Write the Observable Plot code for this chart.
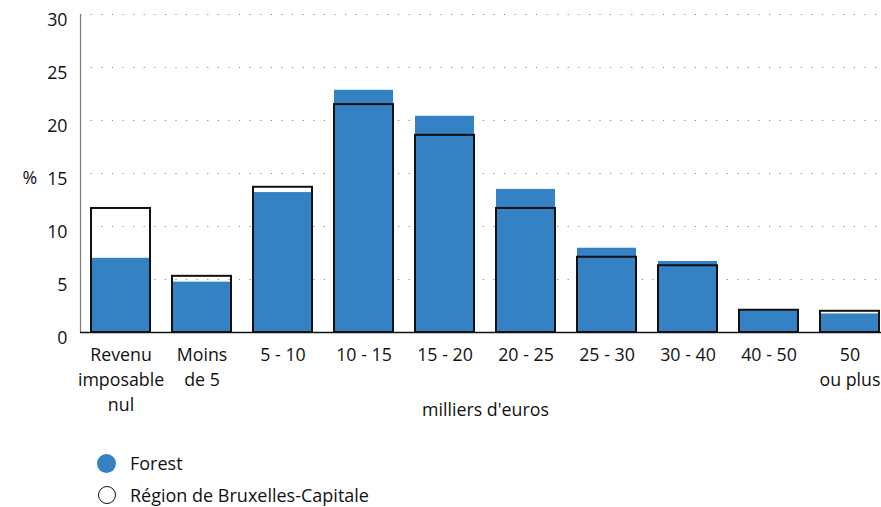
<!DOCTYPE html>
<html>
<head>
<meta charset="utf-8">
<script src="https://cdn.jsdelivr.net/npm/d3@7"></script>
<script src="https://cdn.jsdelivr.net/npm/@observablehq/plot@0.6"></script>
<style>
  html, body { margin: 0; padding: 0; background: #fff; }
  body { width: 881px; height: 507px; position: relative; overflow: hidden; font-family: "Open Sans", sans-serif; color: #111; }
  #chart { position: absolute; left: 0; top: 0; }
  .legend { position: absolute; left: 97px; font-size: 18px; display: flex; align-items: center; line-height: 20px; }
  .legend .sw { width: 19px; height: 19px; border-radius: 50%; box-sizing: border-box; margin-right: 14px; }
</style>
</head>
<body>
<div id="chart"></div>
<div class="legend" style="top:453px"><span class="sw" style="background:#3481c4"></span><span>Forest</span></div>
<div class="legend" style="top:485px"><span class="sw" style="border:1.7px solid #111; width:18px; height:18px; margin-left:1px; margin-right:14px"></span><span>Région de Bruxelles-Capitale</span></div>
<script>
const categories = ["Revenu\nimposable\nnul", "Moins\nde 5", "5 - 10", "10 - 15", "15 - 20", "20 - 25", "25 - 30", "30 - 40", "40 - 50", "50\nou plus"];
const forest = [7.0, 4.75, 13.2, 22.85, 20.4, 13.5, 7.95, 6.7, 2.1, 1.75];
const bruxelles = [11.7, 5.3, 13.7, 21.5, 18.6, 11.7, 7.1, 6.3, 2.1, 2.0];
const yTicks = [0, 5, 10, 15, 20, 25, 30];
const xLabel = "milliers d'euros";
const yLabel = "%";

const forestData = categories.map((c, i) => ({cat: c, v: forest[i]}));
const bxlData = categories.map((c, i) => ({cat: c, v: bruxelles[i]}));

const FS = 17.8;
const chart = Plot.plot({
  width: 881,
  height: 440,
  marginLeft: 80,
  marginRight: 0,
  marginTop: 14,
  marginBottom: 108,
  style: {fontFamily: "'Open Sans', sans-serif", fontSize: FS + "px", color: "#111", background: "#fff"},
  x: {domain: categories, range: [80, 890], round: false, paddingInner: 0.2716, paddingOuter: 0.136, label: null, axis: null},
  y: {domain: [0, 30], label: null, axis: null},
  marks: [
    Plot.gridY(yTicks.filter(d => d > 0), {stroke: "#8a8a8a", strokeOpacity: 1, strokeWidth: 1.2, strokeDasharray: "1.2,9.4"}),
    Plot.barY(forestData, {x: "cat", y: "v", fill: "#3481c4"}),
    Plot.barY(bxlData, {x: "cat", y: "v", fill: "none", stroke: "#111", strokeWidth: 2}),
    Plot.frame({anchor: "left", stroke: "#7a7a7a", strokeWidth: 1.2}),
    Plot.ruleY([0], {stroke: "#111", strokeWidth: 1.5}),
    Plot.text(yTicks, {y: d => d, frameAnchor: "left", dx: -13, dy: 6, textAnchor: "end", fontSize: FS, fill: "#111"}),
    Plot.axisX({tickSize: 0, tickPadding: 11, lineHeight: 25 / FS, fontSize: FS, label: null, fill: "#111"}),
    Plot.text([xLabel], {frameAnchor: "bottom", dx: 4.5, dy: 78, lineAnchor: "middle", fontSize: FS, fill: "#111"}),
    Plot.text([yLabel], {frameAnchor: "left", dx: -58, dy: 5, fontSize: FS, fill: "#111"})
  ]
});
document.getElementById("chart").appendChild(chart);
</script>
</body>
</html>
